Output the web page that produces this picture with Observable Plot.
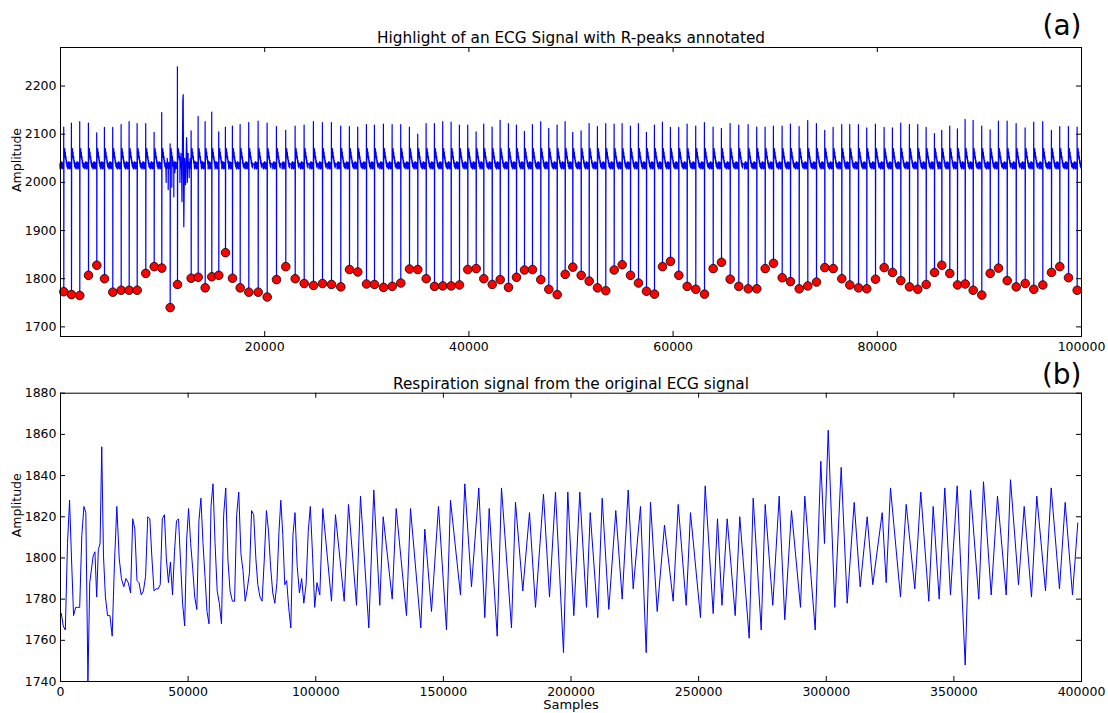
<!DOCTYPE html>
<html>
<head>
<meta charset="utf-8">
<script src="https://cdn.jsdelivr.net/npm/d3@7"></script>
<script src="https://cdn.jsdelivr.net/npm/@observablehq/plot@0.6"></script>
<style>
  html, body { margin: 0; padding: 0; background: white; }
  #chart { width: 1108px; height: 713px; overflow: hidden; background: white; }
  #chart svg { display: block; }
</style>
</head>
<body>
<div id="chart"></div>
<script>
// ---------------- DATA ----------------
// R-peak positions (samples) and amplitudes, panel (a)
const beatSample = [323,1077,1890,2742,3555,4309,5122,5945,6728,7512,8354,9177,9921,10744,11459,12801,13486,14172,14818,15504,16160,16846,17600,18442,19363,20245,21156,22066,22987,23868,24779,25661,26542,27453,28305,29118,29970,30754,31636,32488,33330,34182,34995,35817,36630,37443,38266,39079,39892,40715,41459,42282,43066,43879,44662,45446,46229,47042,47826,48648,49432,50176,50999,51782,52595,53408,54231,55014,55828,56611,57395,58178,58962,59745,60558,61380,62223,63075,63927,64740,65592,66435,67355,68198,69020,69833,70685,71498,72350,73193,74045,74858,75681,76523,77307,78159,78972,79824,80676,81489,82302,83154,83967,84790,85603,86318,87101,87855,88609,89393,90235,91058,91871,92723,93605,94486,95328,96210,97062,97875,98727,99579];
const rPeakAmp = [1773,1767,1765,1807,1828,1800,1772,1776,1776,1776,1811,1825,1822,1740,1788,1801,1803,1781,1804,1807,1854,1801,1781,1772,1772,1762,1798,1825,1800,1790,1786,1790,1788,1783,1819,1814,1789,1788,1782,1784,1791,1820,1819,1800,1784,1785,1785,1787,1819,1821,1800,1788,1798,1782,1803,1818,1819,1798,1778,1767,1809,1824,1807,1795,1781,1775,1818,1829,1807,1791,1774,1768,1825,1836,1807,1784,1778,1768,1821,1834,1799,1784,1779,1779,1821,1832,1802,1794,1779,1785,1793,1823,1821,1800,1787,1781,1779,1799,1823,1813,1796,1783,1778,1788,1813,1828,1811,1787,1789,1776,1766,1811,1822,1796,1783,1790,1778,1787,1813,1825,1802,1776];
// upward spike tip just before each R-peak
const spikeTop = [2115,2123,2126,2123,2103,2114,2114,2120,2126,2122,2122,2104,2145,2080,2240,2107,2137,2126,2146,2105,2115,2117,2120,2124,2127,2123,2116,2108,2117,2119,2126,2124,2124,2117,2116,2115,2120,2119,2121,2120,2120,2115,2100,2122,2122,2126,2125,2119,2119,2105,2121,2115,2129,2122,2119,2106,2120,2126,2112,2119,2126,2104,2107,2122,2116,2122,2121,2122,2117,2122,2104,2119,2125,2114,2114,2121,2117,2124,2115,2112,2122,2119,2120,2115,2115,2117,2117,2121,2116,2128,2122,2108,2114,2120,2120,2120,2113,2121,2114,2113,2123,2120,2120,2114,2101,2108,2117,2111,2131,2129,2117,2109,2127,2127,2122,2113,2125,2126,2108,2116,2116,2115];
// typical beat shape around each R-peak: [offset in samples, offset from baseline]
const ecgBaseline = 2036;
const beatPre = [[-390,2],[-360,-8],[-330,5],[-300,-6],[-270,7],[-240,-4],[-210,6],[-180,-8],[-150,3],[-120,-6],[-90,5],[-60,-7],[-30,3],[-15,-2]];
const beatPost = [[15,2],[40,24],[65,16],[90,34],[120,22],[150,27],[180,12],[210,18],[240,4],[270,10],[300,-3],[330,5],[360,-6],[390,3]];
// motion artefact around sample 11000-12700
const artifactSample = [10350,10450,10550,10650,10900,11000,11100,11200,11700,11800,11900,11980,12017,12076,12150,12250,12350,12420,12500,12600,12700];
const artifactAmp    = [2000,2050,1985,2040,1990,2045,1970,2020,2000,2060,1960,2170,2182,1908,2050,1995,2093,2000,2060,2010,2050];

// respiration signal (b): first 100000 samples equal the R-peak amplitudes, then:
const respLateSample = [100489,101586,102762,106170,107737,111145,112830,115964,117531,120783,122742,125093,126425,129951,131518,135552,137120,141155,142722,145347,148089,151223,152790,156708,158393,161017,163877,166228,167952,171086,172771,176688,178255,181115,183740,186091,189225,191576,193926,197060,198745,201096,203446,206071,207520,210498,212222,214808,217550,220058,222408,224367,227227,229460,231144,233769,236629,240038,241996,245131,246815,250733,252574,255708,257393,259156,261193,264327,266129,269812,271379,274513,276080,279057,281564,283758,286384,289910,291594,295669,297863,299312,300762,303347,305855,308206,310948,313299,316041,318235,321918,323485,325169,329087,331320,334689,337040,340174,341898,344248,346442,348675,351300,354434,356511,359762,361604,364620,367088,370497,372182,375316,377549,380409,382487,385893,388126,391378,393611,396471,398549];
const respLateAmp = [1788,1782,1824,1779,1821,1779,1826,1777,1830,1766,1833,1777,1820,1780,1824,1772,1824,1766,1814,1774,1825,1765,1828,1782,1836,1786,1834,1771,1824,1762,1834,1766,1827,1784,1822,1776,1831,1781,1832,1754,1832,1772,1832,1776,1822,1771,1829,1775,1823,1780,1833,1785,1825,1754,1827,1774,1816,1779,1826,1777,1822,1771,1835,1773,1819,1777,1819,1772,1820,1761,1829,1765,1826,1777,1830,1770,1823,1776,1830,1765,1847,1807,1862,1776,1844,1778,1827,1786,1820,1787,1822,1788,1834,1781,1826,1785,1832,1779,1825,1780,1834,1782,1835,1748,1833,1780,1837,1782,1830,1782,1838,1787,1825,1781,1830,1784,1834,1785,1827,1782,1817];

// axes
const topXTicks = [0, 20000, 40000, 60000, 80000, 100000];
const topXLabels = [20000, 40000, 60000, 80000, 100000];
const topYTicks = [1700, 1800, 1900, 2000, 2100, 2200];
const botXTicks = [0, 50000, 100000, 150000, 200000, 250000, 300000, 350000, 400000];
const botYTicks = [1740, 1760, 1780, 1800, 1820, 1840, 1860, 1880];
const titleA = "Highlight of an ECG Signal with R-peaks annotated";
const titleB = "Respiration signal from the original ECG signal";

// ---------------- BUILD TABLES ----------------
const beats = beatSample.map((s, i) => ({sample: s, amp: rPeakAmp[i], top: spikeTop[i]}));
let ecg = [];
beats.forEach(b => {
  beatPre.forEach(([ds, da]) => ecg.push({sample: b.sample + ds, amp: ecgBaseline + da}));
  ecg.push({sample: b.sample - 8, amp: b.top});
  ecg.push({sample: b.sample, amp: b.amp});
  beatPost.forEach(([ds, da]) => ecg.push({sample: b.sample + ds, amp: ecgBaseline + da}));
});
artifactSample.forEach((s, i) => ecg.push({sample: s, amp: artifactAmp[i]}));
ecg.sort((a, b) => a.sample - b.sample);

const resp = beats.map(b => ({sample: b.sample, amp: b.amp}))
  .concat(respLateSample.map((s, i) => ({sample: s, amp: respLateAmp[i]})));

const font = "DejaVu Sans, Verdana, sans-serif";
const blue = "#0000ff";
const fmt = d => String(d);

// ---------------- PANEL (a) ----------------
const W = 1108, mL = 60, mR = 27;
const fw = W - mL - mR;            // frame width 1021
const hA = 354, mTA = 47, mBA = 18;
const fhA = hA - mTA - mBA;         // 289
const tk = 5;

const plotA = Plot.plot({
  width: W, height: hA,
  marginLeft: mL, marginRight: mR, marginTop: mTA, marginBottom: mBA,
  style: {fontFamily: font, fontSize: "12.5px", background: "white", color: "black"},
  x: {domain: [0, 100000]},
  y: {domain: [1680, 2280]},
  marks: [
    Plot.line(ecg, {x: "sample", y: "amp", stroke: blue, strokeWidth: 1.2}),
    Plot.dot(beats, {x: "sample", y: "amp", r: 4.3, fill: "#ff0000", stroke: "black", strokeWidth: 0.8}),
    Plot.frame({stroke: "black", strokeWidth: 1}),
    Plot.tickX(topXTicks, {x: d => d, insetTop: fhA - tk, stroke: "black"}),
    Plot.tickX(topXTicks, {x: d => d, insetBottom: fhA - tk, stroke: "black"}),
    Plot.tickY(topYTicks, {y: d => d, insetRight: fw - tk, stroke: "black"}),
    Plot.tickY(topYTicks, {y: d => d, insetLeft: fw - tk, stroke: "black"}),
    Plot.axisX(topXLabels, {tickSize: 0, tickPadding: 6, tickFormat: fmt, label: null}),
    Plot.axisY(topYTicks, {tickSize: 0, tickPadding: 4, tickFormat: fmt, label: null}),
    Plot.text([titleA], {text: d => d, frameAnchor: "top", lineAnchor: "bottom", dy: -4.7, fontSize: 15.3}),
    Plot.text(["(a)"], {text: d => d, frameAnchor: "top-right", textAnchor: "end", lineAnchor: "bottom", dy: -13, fontSize: 28}),
    Plot.text(["Amplitude"], {text: d => d, frameAnchor: "left", rotate: -90, dx: -44, fontSize: 12.5})
  ]
});

// ---------------- PANEL (b) ----------------
const hB = 359, mTB = 38.7, mBB = 32;
const fhB = hB - mTB - mBB;

const plotB = Plot.plot({
  width: W, height: hB,
  marginLeft: mL, marginRight: mR, marginTop: mTB, marginBottom: mBB,
  style: {fontFamily: font, fontSize: "12.5px", background: "white", color: "black"},
  x: {domain: [0, 400000]},
  y: {domain: [1740, 1880]},
  marks: [
    Plot.line(resp, {x: "sample", y: "amp", stroke: blue, strokeWidth: 1}),
    Plot.frame({stroke: "black", strokeWidth: 1}),
    Plot.tickX(botXTicks, {x: d => d, insetTop: fhB - tk, stroke: "black"}),
    Plot.tickX(botXTicks, {x: d => d, insetBottom: fhB - tk, stroke: "black"}),
    Plot.tickY(botYTicks, {y: d => d, insetRight: fw - tk, stroke: "black"}),
    Plot.tickY(botYTicks, {y: d => d, insetLeft: fw - tk, stroke: "black"}),
    Plot.axisX(botXTicks, {tickSize: 0, tickPadding: 6, tickFormat: fmt, label: null}),
    Plot.axisY(botYTicks, {tickSize: 0, tickPadding: 4, tickFormat: fmt, label: null}),
    Plot.text([titleB], {text: d => d, frameAnchor: "top", lineAnchor: "bottom", dy: -4.4, fontSize: 15.3}),
    Plot.text(["(b)"], {text: d => d, frameAnchor: "top-right", textAnchor: "end", lineAnchor: "bottom", dy: -9.7, fontSize: 28}),
    Plot.text(["Amplitude"], {text: d => d, frameAnchor: "left", rotate: -90, dx: -44, fontSize: 12.5}),
    Plot.text(["Samples"], {text: d => d, frameAnchor: "bottom", lineAnchor: "bottom", dy: 27.7, fontSize: 13})
  ]
});

const root = document.getElementById("chart");
root.appendChild(plotA);
root.appendChild(plotB);
</script>
</body>
</html>
